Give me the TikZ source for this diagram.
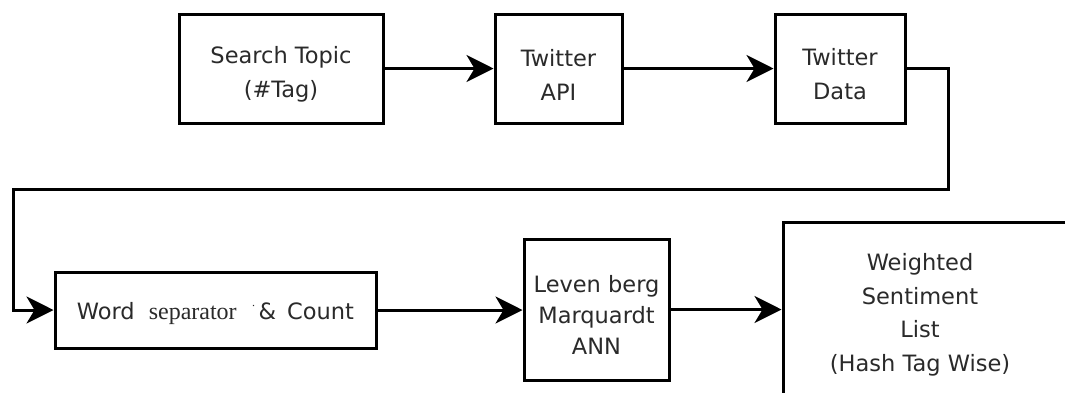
\documentclass[tikz,border=0pt]{standalone}
\usepackage{fontspec}
\setmainfont{DejaVu Sans}
\newfontfamily\seriffont{Liberation Serif}
\usetikzlibrary{arrows.meta}
\definecolor{txt}{HTML}{2a2a2a}
\newcommand\lowerby[1]{\rule{0pt}{\dimexpr 21pt+#1\relax}}
\tikzset{
  blk/.style={draw=black, line width=3pt, fill=white, align=center, inner sep=0pt,
    text=txt, font=\fontsize{22.5}{34}\selectfont},
  flow/.style={draw=black, line width=3pt, -{Stealth[length=27pt,width=27pt,inset=8pt]}},
}
\begin{document}
\begin{tikzpicture}[x=1pt,y=-1pt]
\useasboundingbox (0,0) rectangle (1065,392);
\clip (0,0) rectangle (1065,392);
\fill[white] (0,0) rectangle (1065,392);
\node[blk, minimum width=204pt, minimum height=109pt] (search) at (281,68.5) {\lowerby{8pt}Search Topic\\(\#Tag)};
\node[blk, minimum width=127pt, minimum height=109pt] (api) at (558.5,68.5) {\lowerby{8pt}Twitter\\API};
\node[blk, minimum width=130pt, minimum height=109pt] (data) at (840,68.5) {\lowerby{8pt}Twitter\\Data};
\node[blk, minimum width=321pt, minimum height=76pt] (word) at (215.5,310) {\lowerby{3pt}Word\hspace{14pt}{\seriffont\fontsize{24}{24}\selectfont separator}\hspace{14pt}\raisebox{5pt}{\fontsize{12}{12}\selectfont ˙}\hspace{2pt}\&\hspace{11pt}Count};
\node[blk, minimum width=145pt, minimum height=141pt, font=\fontsize{22.5}{31}\selectfont] (lm) at (596.5,309.5) {\lowerby{6pt}Leven berg\\Marquardt\\ANN};
\node[blk, minimum width=300pt, minimum height=190pt] (ws) at (933,317) {};
\node[align=center, text=txt, font=\fontsize{22.5}{33.5}\selectfont, inner sep=0pt] (wstext) at (920,315) {Weighted\\Sentiment\\List\\(Hash Tag Wise)};
\coordinate (t1) at (948,189);
\coordinate (t2) at (13,189);
\draw[flow] (search.east) -- (api.west);
\draw[flow] (api.east) -- (data.west);
\draw[flow] (data.east) -| (t1) -- (t2) |- (word.west);
\draw[flow] (word.east) -- (lm.west |- word.east);
\draw[flow] (lm.east) -- (ws.west |- lm.east);
\end{tikzpicture}
\end{document}
